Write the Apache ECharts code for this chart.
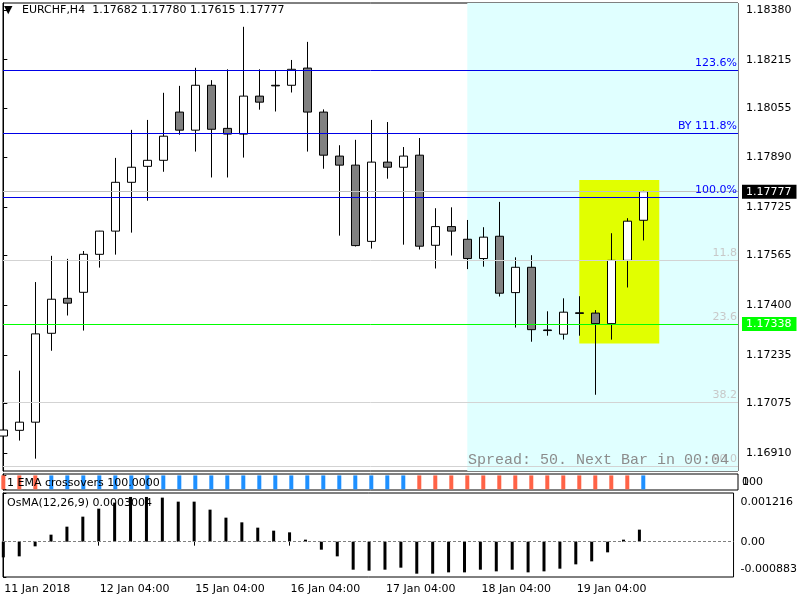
<!DOCTYPE html>
<html>
<head>
<meta charset="utf-8">
<script src="https://cdn.jsdelivr.net/npm/echarts@6/dist/echarts.min.js"></script>
<style>
  html, body { margin: 0; padding: 0; background: #fff; }
  #chart { width: 800px; height: 600px; }
</style>
</head>
<body>
<div id="chart"></div>
<script>
// ---------------- DATA ----------------
const symbol = 'EURCHF';
const timeframe = 'H4';
const opens  = [1.16966,1.16985,1.17012,1.17307,1.17423,1.17443,1.17569,1.17646,1.17808,1.17861,
                1.17881,1.18041,1.17981,1.18130,1.17987,1.17968,1.18094,1.18130,1.18130,1.18187,
                1.18041,1.17895,1.17865,1.17612,1.17875,1.17858,1.17898,1.17599,1.17661,1.17619,
                1.17555,1.17629,1.17442,1.17526,1.17318,1.17304,1.17375,1.17374,1.17339,1.17549,
                1.17682];
const highs  = [1.17064,1.17183,1.17477,1.17564,1.17554,1.17580,1.17647,1.17889,1.17982,1.18015,
                1.18105,1.18128,1.18188,1.18147,1.18183,1.18324,1.18183,1.18179,1.18214,1.18274,
                1.18050,1.17931,1.17949,1.18015,1.18008,1.17925,1.17955,1.17722,1.17725,1.17683,
                1.17659,1.17743,1.17559,1.17566,1.17380,1.17423,1.17430,1.17384,1.17639,1.17689,
                1.17780];
const lows   = [1.16926,1.16951,1.16891,1.17249,1.17366,1.17316,1.17525,1.17568,1.17641,1.17747,
                1.17843,1.17966,1.17910,1.17824,1.17824,1.17890,1.18049,1.18043,1.18106,1.17910,
                1.17853,1.17631,1.17595,1.17588,1.17820,1.17601,1.17585,1.17522,1.17565,1.17520,
                1.17528,1.17429,1.17326,1.17279,1.17299,1.17286,1.17299,1.17103,1.17286,1.17459,
                1.17615];
const closes = [1.16986,1.17012,1.17305,1.17420,1.17407,1.17569,1.17646,1.17808,1.17858,1.17881,
                1.17961,1.17981,1.18130,1.17984,1.17968,1.18094,1.18074,1.18128,1.18183,1.18041,
                1.17898,1.17865,1.17598,1.17875,1.17858,1.17895,1.17596,1.17661,1.17646,1.17555,
                1.17626,1.17440,1.17526,1.17319,1.17316,1.17377,1.17373,1.17339,1.17549,1.17679,
                1.17777];
// EMA crossover state per bar: 1 = up (blue), -1 = down (red)
const emaSignal = [-1,-1,-1,1,1,1,1,1,1,1,1,1,1,1,1,1,1,1,1,1,1,1,1,1,1,1,
                   -1,-1,-1,-1,-1,-1,-1,-1,-1,-1,-1,-1,-1,-1,1];
const emaValue = 100;
const emaAxisLabels = ['100', '0'];
// OsMA(12,26,9) histogram
const osma = [-0.000392,-0.000367,-0.000117,0.000175,0.000375,0.000625,0.000825,0.000975,0.001117,0.001117,
              0.001100,0.001000,0.001000,0.000800,0.000600,0.000483,0.000350,0.000275,0.000233,0.000050,
              -0.000200,-0.000367,-0.000700,-0.000725,-0.000700,-0.000650,-0.000800,-0.000800,-0.000767,-0.000767,
              -0.000700,-0.000742,-0.000700,-0.000767,-0.000742,-0.000675,-0.000567,-0.000492,-0.000267,0.000050,
              0.0003004];
const osmaMin = -0.000883, osmaMax = 0.001216;
// time axis ticks (bar index) and labels
const dateTicks  = [0, 6, 12, 18, 24, 30, 36];
const dateLabels = ['11 Jan 2018','12 Jan 04:00','15 Jan 04:00','16 Jan 04:00','17 Jan 04:00','18 Jan 04:00','19 Jan 04:00'];
// price axis tick labels
const priceTicks = [1.16910,1.17075,1.17235,1.17400,1.17565,1.17725,1.17890,1.18055,1.18215,1.18380];
const priceMin = 1.16850, priceMax = 1.18403;
// fibo expansion levels (blue) and retracement levels (grey)
const fiboLabels = ['123.6%','BY 111.8%','100.0%'];
const fiboPrices = [1.18181, 1.17972, 1.17759];
const retrLabels = ['11.8','23.6','38.2','50.0'];
const retrPrices = [1.17550, 1.17338, 1.17079, 1.16867];
const bidPrice = closes[closes.length - 1];
const greenLevel = 1.17338;
// highlighted zones (bar index / price)
const sessionStart = 29;
const boxStart = 36, boxEnd = 41, boxTop = 1.17816, boxBottom = 1.17273;
const spreadText = 'Spread: 50. Next Bar in 00:04';
// x extent in bar units
const xMin = -0.02, xMax = 45.92;

// ---------------- CHART ----------------
const FONT = 'DejaVu Sans';
const n = closes.length;
const candleData = opens.map((o, i) => [i, o, closes[i], lows[i], highs[i]]);
const f5 = v => v.toFixed(5);

const header = `${symbol},${timeframe}  ${f5(opens[n-1])} ${f5(highs[n-1])} ${f5(lows[n-1])} ${f5(closes[n-1])}`;

const chart = echarts.init(document.getElementById('chart'), null, { renderer: 'canvas' });

const baseX = (gi, showLabels) => ({
  type: 'value', gridIndex: gi, min: xMin, max: xMax,
  axisLine: { show: false }, splitLine: { show: false },
  axisTick: showLabels ? { show: true, customValues: dateTicks, length: 4, lineStyle: { color: '#000' } } : { show: false },
  axisLabel: showLabels ? {
    show: true, customValues: dateTicks, align: 'left', margin: 7, padding: [0,0,0,1],
    color: '#000', fontFamily: FONT, fontSize: 11,
    formatter: v => dateLabels[dateTicks.indexOf(Math.round(v))] || ''
  } : { show: false }
});

const retrLine = (p, t) => ({
  yAxis: p,
  lineStyle: { color: '#d3d3d3', width: 1, type: 'solid' },
  label: { show: true, position: 'insideEndTop', formatter: t, color: '#c8c8c8',
           fontFamily: FONT, fontSize: 11, distance: [1, 1] }
});
const fiboLine = (p, t) => ({
  yAxis: p,
  lineStyle: { color: '#0000e6', width: 1, type: 'solid' },
  label: { show: true, position: 'insideEndTop', formatter: t, color: '#0000ff',
           fontFamily: FONT, fontSize: 11, distance: [1, 1] }
});
const priceTag = (p, bg, lineColor) => ({
  yAxis: p,
  lineStyle: { color: lineColor, width: 1, type: 'solid' },
  label: { show: true, position: 'end', formatter: f5(p), color: '#fff', backgroundColor: bg,
           fontFamily: FONT, fontSize: 11, padding: [2, 5, 1, 4], distance: 4 }
});

const plainText = (text, left, top, extra) => ({
  text, left, top, padding: 0,
  textStyle: Object.assign({ fontFamily: FONT, fontSize: 11, fontWeight: 'normal', color: '#000' }, extra || {})
});

const option = {
  animation: false,
  backgroundColor: '#fff',
  textStyle: { fontFamily: FONT, fontSize: 11, color: '#000' },
  title: [
    plainText('▼', 4, 5, { fontSize: 11 }),
    plainText(header, 22, 5),
    Object.assign(plainText(`1 EMA crossovers ${emaValue.toFixed(4)}`, 7, 477.5), { z: 10 }),
    plainText(`OsMA(12,26,9) ${osma[n-1].toFixed(7)}`, 7, 497.5),
    plainText(emaAxisLabels[0], 742, 477),
    plainText(emaAxisLabels[1], 742, 477),
    Object.assign(plainText(spreadText, 0, 453, { fontFamily: 'Liberation Mono', fontSize: 15, color: '#8c8c8c' }),
                  { left: undefined, right: 71 })
  ],
  grid: [
    { left: 3, top: 3, width: 735, height: 468, show: true, borderColor: '#000', borderWidth: 1, backgroundColor: '#fff' },
    { left: 3, top: 474, width: 735, height: 16, show: true, borderColor: '#000', borderWidth: 1, backgroundColor: '#fff' },
    { left: 3, top: 493, width: 735, height: 84, show: true, borderColor: '#000', borderWidth: 1, backgroundColor: '#fff' }
  ],
  xAxis: [ baseX(0, false), baseX(1, false), baseX(2, true) ],
  yAxis: [
    { type: 'value', gridIndex: 0, position: 'right', min: priceMin, max: priceMax,
      axisLine: { show: true, lineStyle: { color: '#000' } },
      axisTick: { show: true, customValues: priceTicks, length: 4, lineStyle: { color: '#000' } },
      axisLabel: { show: true, customValues: priceTicks, formatter: v => v.toFixed(5), margin: 8,
                   color: '#000', fontFamily: FONT, fontSize: 11 },
      splitLine: { show: false } },
    { type: 'value', gridIndex: 1, position: 'right', min: -5, max: 110,
      axisLine: { show: true, lineStyle: { color: '#000' } },
      axisTick: { show: true, customValues: [0, 100], length: 3, lineStyle: { color: '#000' } },
      axisLabel: { show: false },
      splitLine: { show: false } },
    { type: 'value', gridIndex: 2, position: 'right', min: osmaMin, max: osmaMax,
      axisLine: { show: true, lineStyle: { color: '#000' } },
      axisTick: { show: true, customValues: [osmaMin, 0, osmaMax], length: 3, lineStyle: { color: '#000' } },
      axisLabel: { show: true, customValues: [osmaMin, 0, osmaMax], margin: 7, color: '#000', fontFamily: FONT, fontSize: 11,
                   showMinLabel: true, showMaxLabel: true,
                   formatter: v => v === osmaMax ? '{t|' + v.toFixed(6) + '}' : (v === osmaMin ? '{b|' + v.toFixed(6) + '}' : '0.00'),
                   rich: { t: { padding: [18, 0, 0, 0] }, b: { padding: [0, 0, 16, 0] } } },
      splitLine: { show: false } }
  ],
  series: [
    { // background zones
      type: 'line', xAxisIndex: 0, yAxisIndex: 0, data: [], z: 1, silent: true,
      markArea: {
        silent: true,
        data: [
          [ { xAxis: sessionStart, itemStyle: { color: '#e0ffff' } }, { xAxis: xMax } ],
          [ { xAxis: boxStart, yAxis: boxTop, itemStyle: { color: '#e1ff00' } }, { xAxis: boxEnd, yAxis: boxBottom } ]
        ]
      }
    },
    {
      type: 'candlestick', xAxisIndex: 0, yAxisIndex: 0, z: 3, silent: true, clip: true,
      encode: { x: 0, y: [1, 2, 3, 4] },
      data: candleData,
      barWidth: 9,
      itemStyle: { color: '#ffffff', color0: '#808080', borderColor: '#000', borderColor0: '#000', borderWidth: 1 }
    },
    { // horizontal levels
      type: 'line', xAxisIndex: 0, yAxisIndex: 0, data: [], z: 5, silent: true,
      markLine: {
        silent: true, symbol: ['none', 'none'], animation: false, precision: 6,
        data: [
          ...retrPrices.map((p, i) => retrLine(p, retrLabels[i])),
          priceTag(bidPrice, '#000000', '#c0c0c0'),
          ...fiboPrices.map((p, i) => fiboLine(p, fiboLabels[i])),
          priceTag(greenLevel, '#00ff00', '#00ff00')
        ]
      }
    },
    {
      type: 'bar', xAxisIndex: 1, yAxisIndex: 1, barWidth: 4, silent: true, z: 2, clip: true,
      data: emaSignal.map((s, i) => ({ value: [i, emaValue], itemStyle: { color: s > 0 ? '#1e90ff' : '#ff6347' } }))
    },
    {
      type: 'bar', xAxisIndex: 2, yAxisIndex: 2, barWidth: 3, silent: true, clip: true,
      itemStyle: { color: '#000' },
      data: osma.map((v, i) => [i, v]),
      markLine: {
        silent: true, symbol: ['none', 'none'], label: { show: false }, precision: 8,
        lineStyle: { color: '#808080', type: [3, 2], width: 1 },
        data: [ { yAxis: 0 } ]
      }
    }
  ]
};
chart.setOption(option);
</script>
</body>
</html>
